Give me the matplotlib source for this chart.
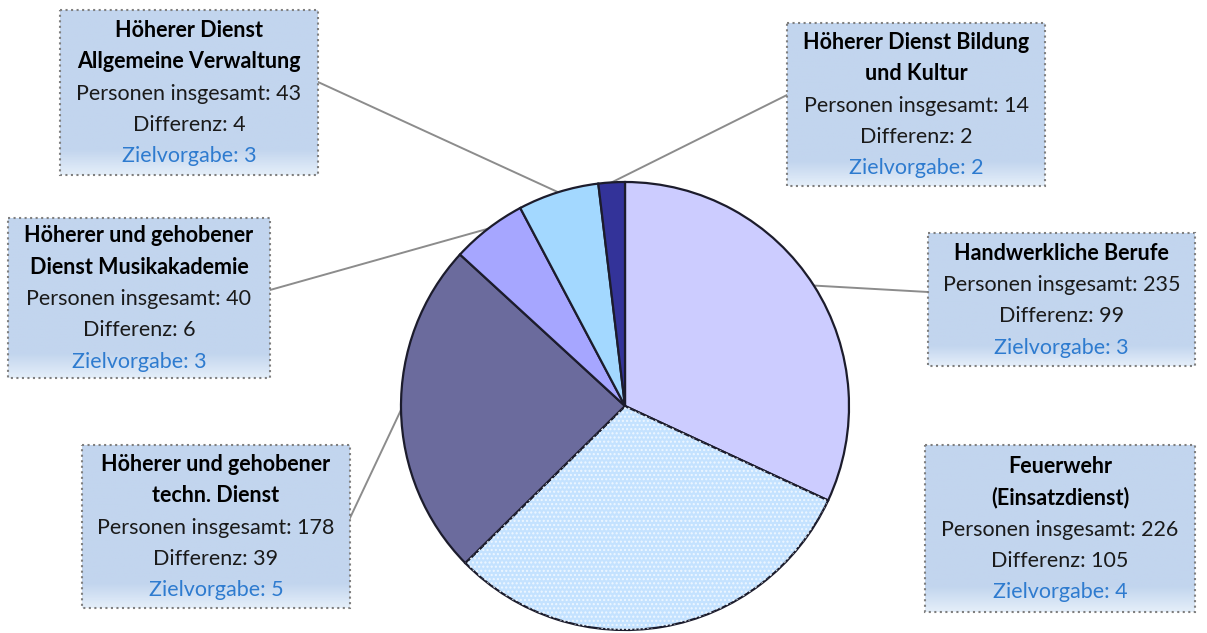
import numpy as np
import matplotlib.pyplot as plt
from matplotlib.patches import Rectangle, Wedge
from matplotlib.colors import to_rgb

# data (clockwise from 12 o'clock)
categories = ['Handwerkliche Berufe', 'Feuerwehr (Einsatzdienst)',
              'Höherer und gehobener techn. Dienst',
              'Höherer und gehobener Dienst Musikakademie',
              'Höherer Dienst Allgemeine Verwaltung',
              'Höherer Dienst Bildung und Kultur']
titles = [['Handwerkliche Berufe'],
          ['Feuerwehr', '(Einsatzdienst)'],
          ['Höherer und gehobener', 'techn. Dienst'],
          ['Höherer und gehobener', 'Dienst Musikakademie'],
          ['Höherer Dienst', 'Allgemeine Verwaltung'],
          ['Höherer Dienst Bildung', 'und Kultur']]
personen = [235, 226, 178, 40, 43, 14]
differenz = [99, 105, 39, 6, 4, 2]
zielvorgabe = [3, 4, 5, 3, 3, 2]
colors = ['#CCCCFF', '#C4E2FF', '#6B6B9D', '#A6A6FF', '#A3D8FF', '#333399']

# label boxes (pixel layout: x0, y0, x1, y1) and where the leader line leaves the box
boxes = [(928, 233, 1195, 366), (925, 445, 1195, 612), (82, 445, 350, 608),
         (8, 218, 270, 378), (60, 10, 318, 175), (787, 23, 1045, 186)]
line_from = [(928, 292), None, (350, 518), (270, 290), (318, 82), (787, 95)]

plt.rcParams['font.family'] = ['Lato', 'DejaVu Sans']

fig = plt.figure(figsize=(12.07, 6.33), dpi=100)
ax = fig.add_axes([0, 0, 1, 1])

center = (625, 406)
radius = 224
wedges, _ = ax.pie(personen, colors=colors, startangle=-90, counterclock=True,
                   center=center, radius=radius, frame=True,
                   wedgeprops=dict(edgecolor='#1c1c2c', linewidth=1.6))

# dotted texture on the Feuerwehr slice
w = wedges[1]
ax.add_patch(Wedge(center, radius, w.theta1, w.theta2, facecolor='none',
                   edgecolor='#EEF7FF', hatch='....', linewidth=0, zorder=w.get_zorder() + 0.1))

# leader lines from box to slice
for w, start in zip(wedges, line_from):
    if start is None:
        continue
    mid = np.deg2rad((w.theta1 + w.theta2) / 2)
    end = (center[0] + radius * np.cos(mid), center[1] + radius * np.sin(mid))
    ax.plot([start[0], end[0]], [start[1], end[1]], color='#8c8c8c', lw=1.4, zorder=0.5)

# gradient for the boxes
top = np.array(to_rgb('#C2D5EE'))
bottom = np.array(to_rgb('#E4EEF9'))
grad = np.linspace(0, 1, 100)
weights = np.clip((grad - 0.85) / 0.15, 0, 1)
img = top[None, :] * (1 - weights[:, None]) + bottom[None, :] * weights[:, None]
img = img[:, None, :]

for (x0, y0, x1, y1), tl, p, d, z in zip(boxes, titles, personen, differenz, zielvorgabe):
    ax.imshow(img, extent=(x0, x1, y1, y0), aspect='auto', zorder=3)
    ax.add_patch(Rectangle((x0, y0), x1 - x0, y1 - y0, facecolor='none',
                           edgecolor='#7f7f7f', lw=1.5, ls=':', zorder=4))
    lines = [(t, 'bold', 'black') for t in tl]
    lines += [(f'Personen insgesamt: {p}', 'normal', '#1a1a1a'),
              (f'Differenz: {d}', 'normal', '#1a1a1a'),
              (f'Zielvorgabe: {z}', 'normal', '#2E7BCF')]
    step = 31.5
    cx = (x0 + x1) / 2
    cy = (y0 + y1) / 2 + 1
    n = len(lines)
    for i, (t, wt, c) in enumerate(lines):
        yy = cy + (i - (n - 1) / 2) * step
        ax.text(cx, yy, t, ha='center', va='center', fontsize=15.5,
                fontweight=wt, color=c, zorder=5)

ax.set_xlim(0, 1207)
ax.set_ylim(633, 0)
ax.set_aspect('equal')
ax.axis('off')
fig.savefig('out.png', dpi=100)
